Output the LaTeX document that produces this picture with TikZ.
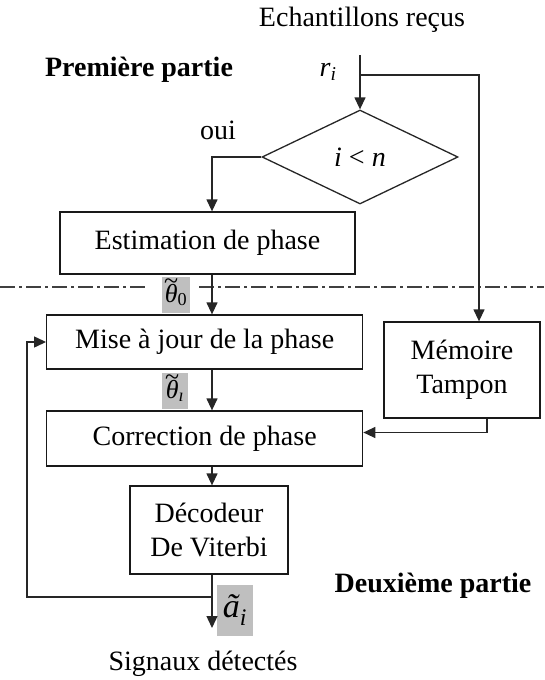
\documentclass[tikz,border=0pt]{standalone}
\usepackage{fontspec}
\setmainfont{Liberation Serif}
\usetikzlibrary{arrows.meta,shapes.geometric}
\newcommand{\Tild}[1]{\ooalign{#1\cr\hidewidth\raisebox{0.5em}{\textasciitilde}\hidewidth\cr}}
\newcommand{\PhaseZero}{\Tild{\textit{θ}}\textsubscript{0}}
\newcommand{\PhaseI}{\Tild{\textit{θ}}\textsubscript{\textit{ı}}}
\newcommand{\SymbI}{\textit{ã}\textsubscript{\textit{i}}}

\begin{document}
\begin{tikzpicture}[x=1pt,y=-1pt,
  txt/.style={inner sep=0pt,align=center,font=\fontsize{28}{34}\selectfont},
  titre/.style={inner sep=0pt,font=\fontsize{28}{34}\selectfont\bfseries},
  bloc/.style={txt,draw=black!90,line width=1.3pt},
  fl/.style={-{Triangle[width=11pt,length=12pt]},line width=1.3pt,draw=black!85},
  lbl/.style={fill=black!25,inner sep=0pt,font=\fontsize{26}{28}\selectfont},
  sep/.style={line width=1.8pt,draw=black!75,dash pattern=on 15pt off 4pt on 3pt off 4pt}]
\useasboundingbox (0,0) rectangle (544,680);

\node[txt] (In) at (362,20) {Echantillons reçus};
\node[titre] (P1) at (139,70) {Première partie};
\node[txt] (ri) at (328,72) {\textit{r}\textsubscript{\textit{i}}};
\node[txt] (Oui) at (218,130) {oui};
\node[txt,draw=black!85,line width=1.3pt,diamond,minimum width=196pt,minimum height=94pt] (Test) at (360,157) {\textit{i} < \textit{n}};
\node[bloc,minimum width=295pt,minimum height=62pt] (Estim) at (207.5,243) {Estimation de phase};
\node[bloc,minimum width=316pt,minimum height=54pt] (Maj) at (204.7,342) {Mise à jour de la phase};
\node[bloc,minimum width=316pt,minimum height=55pt] (Corr) at (204.7,438.5) {Correction de phase};
\node[bloc,minimum width=156pt,minimum height=96pt] (Mem) at (462,370) {Mémoire\\Tampon};
\node[bloc,minimum width=158pt,minimum height=88pt] (Dec) at (209,530) {Décodeur\\De Viterbi};
\node[titre] (P2) at (433,586) {Deuxième partie};
\node[txt] (Sig) at (203,664) {Signaux détectés};

\node[lbl,minimum width=28pt,minimum height=36pt] (T0) at (176,295) {\PhaseZero};
\node[lbl,minimum width=26pt,minimum height=36pt] (Ti) at (175,391) {\PhaseI};
\node[lbl,minimum width=36pt,minimum height=51pt,font=\fontsize{34}{36}\selectfont] (Ai) at (235,610) {\SymbI};

\coordinate (Col) at (212,0);
\coordinate (Src) at (360,55);
\coordinate (Br) at (360,75);
\coordinate (Fb) at (212,597);
\coordinate (Ret) at (27,597);
\coordinate (Out) at (212,628);

\draw[sep] (0,287) -- ([xshift=-14pt]T0.west |- 0,287) ([xshift=9pt]T0.east |- 0,287) -- (544,287);

\draw[fl] (Src) -- (Test.north);
\draw[fl] (Br) -| ([xshift=17pt]Mem.north);
\draw[fl] (Test.west) -| (Estim.north -| Col);
\draw[fl] (Estim.south -| Col) -- (Maj.north -| Col);
\draw[fl] (Maj.south -| Col) -- (Corr.north -| Col);
\draw[fl] ([xshift=25pt]Mem.south) |- ([yshift=6pt]Corr.east);
\draw[fl] (Corr.south -| Col) -- (Dec.north -| Col);
\draw[fl] (Dec.south -| Col) -- (Out);
\draw[fl] (Fb) -- (Ret) |- (Maj.west);
\end{tikzpicture}
\end{document}
